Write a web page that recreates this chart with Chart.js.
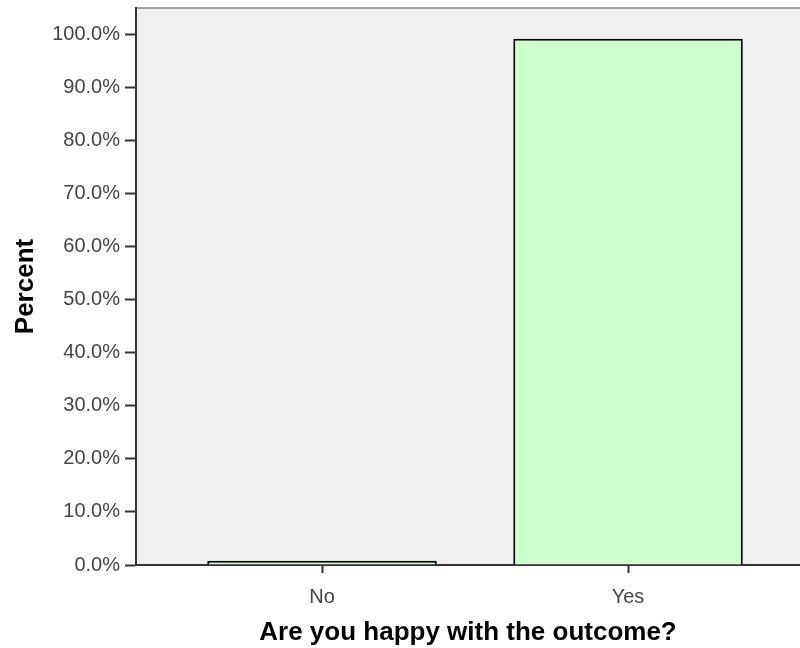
<!DOCTYPE html>
<html>
<head>
<meta charset="utf-8">
<script src="https://cdn.jsdelivr.net/npm/chart.js@4"></script>
<style>
  html, body { margin: 0; padding: 0; background: #fff; overflow: hidden; }
  #wrap { width: 800px; height: 648px; }
</style>
</head>
<body>
<div id="wrap"><canvas id="chart"></canvas></div>
<script>
// data
const categories = ['No', 'Yes'];
const percentValues = [0.8, 99.2];
const yTicks = [0, 10, 20, 30, 40, 50, 60, 70, 80, 90, 100];

const AXIS_COLOR = '#333333';
const TEXT_COLOR = '#444444';

// gray plot background + thin top line
const plotBackground = {
    id: 'plotBackground',
    beforeDraw(chart) {
        const { ctx, chartArea } = chart;
        ctx.save();
        ctx.fillStyle = '#f0f0f0';
        ctx.fillRect(chartArea.left, chartArea.top, chartArea.right - chartArea.left, chartArea.bottom - chartArea.top);
        ctx.strokeStyle = '#8a8a8a';
        ctx.lineWidth = 1.5;
        ctx.beginPath();
        ctx.moveTo(chartArea.left, chartArea.top);
        ctx.lineTo(chartArea.right, chartArea.top);
        ctx.stroke();
        ctx.restore();
    }
};

new Chart(document.getElementById('chart'), {
    type: 'bar',
    data: {
        datasets: [{
            data: categories.map((c, i) => ({ x: i, y: percentValues[i] })),
            backgroundColor: '#ccffcc',
            borderColor: '#000000',
            borderWidth: 2,
            categoryPercentage: 1,
            barPercentage: 0.75
        }]
    },
    options: {
        responsive: true,
        maintainAspectRatio: false,
        animation: false,
        layout: { padding: { top: 8, right: 0, left: 0, bottom: 0 } },
        scales: {
            x: {
                type: 'linear',
                offset: false,
                min: -0.608,
                max: 1.562,
                afterBuildTicks: (scale) => {
                    scale.ticks = categories.map((c, i) => ({ value: i }));
                },
                afterFit: (scale) => { scale.height = 83; },
                ticks: {
                    callback: (v) => categories[v] ?? '',
                    color: TEXT_COLOR,
                    font: { family: 'Liberation Sans, Arial', size: 20 },
                    padding: 12,
                    maxRotation: 0
                },
                grid: {
                    display: true,
                    offset: false,
                    drawOnChartArea: false,
                    tickLength: 8,
                    tickWidth: 2,
                    tickColor: AXIS_COLOR
                },
                border: { display: true, color: AXIS_COLOR, width: 2 },
                title: {
                    display: true,
                    text: 'Are you happy with the outcome?',
                    color: '#000',
                    font: { family: 'Liberation Sans, Arial', size: 26, weight: 'bold' },
                    padding: { top: 4, bottom: 0 }
                }
            },
            y: {
                min: 0,
                max: 105,
                afterBuildTicks: (scale) => {
                    scale.ticks = yTicks.map(v => ({ value: v }));
                },
                afterFit: (scale) => {
                    scale.width = 136;
                    scale.paddingTop = 0; // top tick is 100, not at the edge
                },
                ticks: {
                    callback: (v) => v.toFixed(1) + '%',
                    color: TEXT_COLOR,
                    font: { family: 'Liberation Sans, Arial', size: 20 },
                    padding: 5
                },
                grid: {
                    display: true,
                    drawOnChartArea: false,
                    tickLength: 11,
                    tickWidth: 2,
                    tickColor: AXIS_COLOR
                },
                border: { display: true, color: AXIS_COLOR, width: 2 },
                title: {
                    display: true,
                    text: 'Percent',
                    color: '#000',
                    font: { family: 'Liberation Sans, Arial', size: 26, weight: 'bold' },
                    padding: { top: 10, bottom: 0 }
                }
            }
        },
        plugins: {
            legend: { display: false },
            tooltip: { enabled: false }
        }
    },
    plugins: [plotBackground]
});
</script>
</body>
</html>
